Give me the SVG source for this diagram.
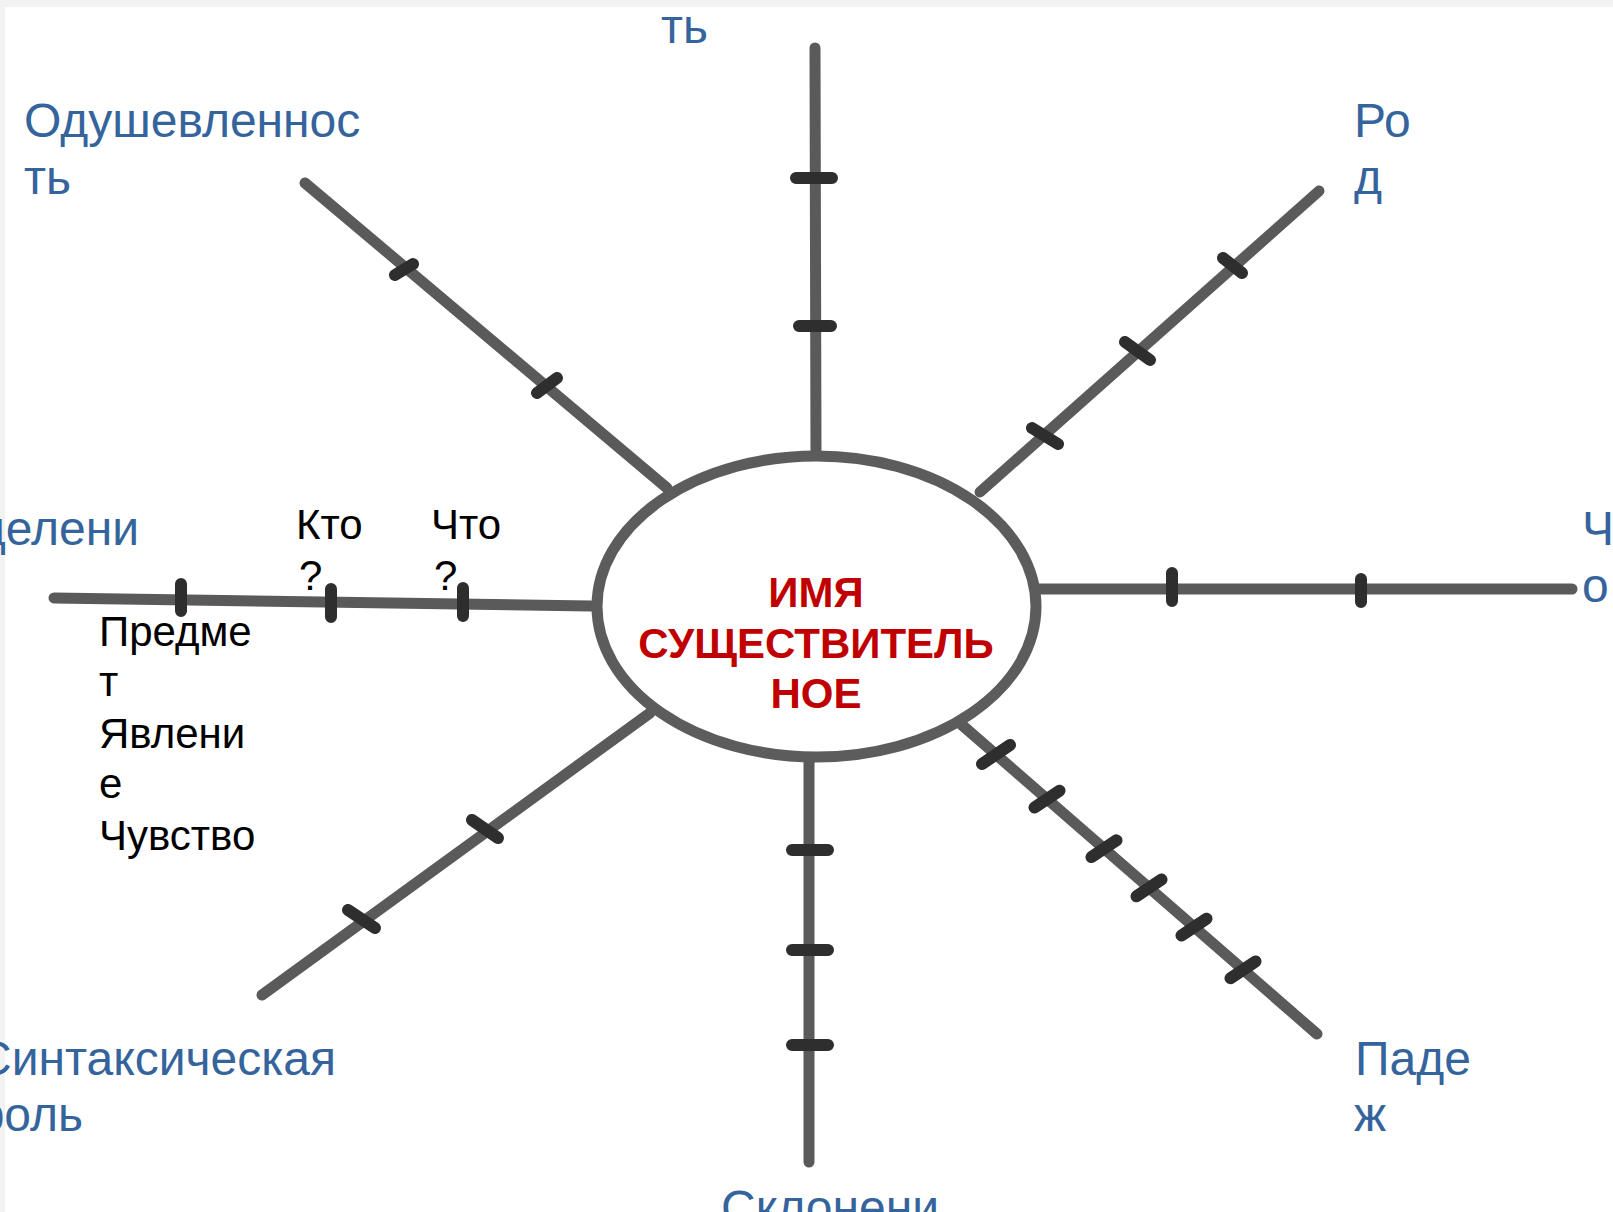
<svg xmlns="http://www.w3.org/2000/svg" width="1613" height="1212" viewBox="0 0 1613 1212">
<style>
.ray{stroke:#5a5a5a;stroke-width:11;stroke-linecap:round;stroke-linejoin:round;fill:none}
.tick{stroke:#2e2e2e;stroke-width:12;stroke-linecap:round;fill:none}
.lbl{font-family:"Liberation Sans",Arial,sans-serif;font-size:48px;fill:#35649c}
.blk{font-family:"Liberation Sans",Arial,sans-serif;font-size:42px;fill:#000}
.title{font-family:"Liberation Sans",Arial,sans-serif;font-size:42px;font-weight:bold;fill:#c00000;text-anchor:middle}
.end{text-anchor:end}
</style>
<rect width="1613" height="1212" fill="#fff"/>
<rect width="1613" height="7" fill="#f2f2f2"/>
<rect width="5" height="1212" fill="#f2f2f2"/>

<g id="connectors">
  <g id="ray-top">
    <path class="ray" d="M815 48 L816 455"/>
    <path class="tick" d="M796 178 H832 M799 326 H831"/>
  </g>
  <g id="ray-upper-left">
    <path class="ray" d="M305 183 L667 488"/>
    <path class="tick" d="M395 275 L413 264 M537 393 L557 378"/>
  </g>
  <g id="ray-upper-right">
    <path class="ray" d="M1319 191 L980 492"/>
    <path class="tick" d="M1223 258 L1242 273 M1125 342 L1150 360 M1032 428 L1058 444"/>
  </g>
  <g id="ray-right">
    <path class="ray" d="M1039 589 L1572 589"/>
    <path class="tick" d="M1172 573 V601 M1361 579 V602"/>
  </g>
  <g id="ray-lower-right">
    <path class="ray" d="M962 725 L1317 1034"/>
    <path class="tick" d="M982 764 L1010 745 M1034.5 807.5 L1059.5 790.7 M1091.5 857.1 L1116.5 840.3 M1136.5 896.3 L1161.5 879.5 M1181.5 935.5 L1206.5 918.7 M1230.5 978.2 L1255.5 961.4"/>
  </g>
  <g id="ray-bottom">
    <path class="ray" d="M809 759 L809 1162"/>
    <path class="tick" d="M792 850 H828 M792 950 H828 M792 1045 H828"/>
  </g>
  <g id="ray-lower-left">
    <path class="ray" d="M262 995 L650 713"/>
    <path class="tick" d="M472 820 L498 838 M348 910 L375 928"/>
  </g>
  <g id="ray-left">
    <path class="ray" d="M54 598 L591 606"/>
    <path class="tick" d="M181 584 V611 M331 589 V617 M463 588 V616"/>
  </g>
</g>

<g id="center">
  <ellipse cx="816.5" cy="606.5" rx="219.5" ry="150.5" fill="#fff" stroke="#5c5c5c" stroke-width="11"/>
  <text class="title" x="816" y="607">ИМЯ</text>
  <text class="title" x="816" y="658">СУЩЕСТВИТЕЛЬ</text>
  <text class="title" x="816" y="708">НОЕ</text>
</g>

<g id="label-top"><text class="lbl" x="661" y="43">ть</text></g>
<g id="label-odush"><text class="lbl" x="24" y="137">Одушевленнос</text><text class="lbl" x="24" y="194">ть</text></g>
<g id="label-rod"><text class="lbl" x="1354" y="137">Ро</text><text class="lbl" x="1354" y="194">д</text></g>
<g id="label-left"><text class="lbl end" x="139" y="545">делени</text></g>
<g id="label-right"><text class="lbl" x="1582" y="545">Ч</text><text class="lbl" x="1582" y="602">о</text></g>
<g id="label-synt"><text class="lbl end" x="336" y="1075">Синтаксическая</text><text class="lbl end" x="83" y="1131">роль</text></g>
<g id="label-padezh"><text class="lbl" x="1355" y="1075">Паде</text><text class="lbl" x="1354" y="1131">ж</text></g>
<g id="label-bottom"><text class="lbl" x="721" y="1224">Склонени</text></g>

<g id="notes">
  <text class="blk" x="296" y="539">Кто</text>
  <text class="blk" x="299" y="590">?</text>
  <text class="blk" x="431" y="539">Что</text>
  <text class="blk" x="434" y="590">?</text>
  <text class="blk" x="99" y="646">Предме</text>
  <text class="blk" x="99" y="696">т</text>
  <text class="blk" x="99" y="748">Явлени</text>
  <text class="blk" x="99" y="798">е</text>
  <text class="blk" x="99" y="850">Чувство</text>
</g>
</svg>
